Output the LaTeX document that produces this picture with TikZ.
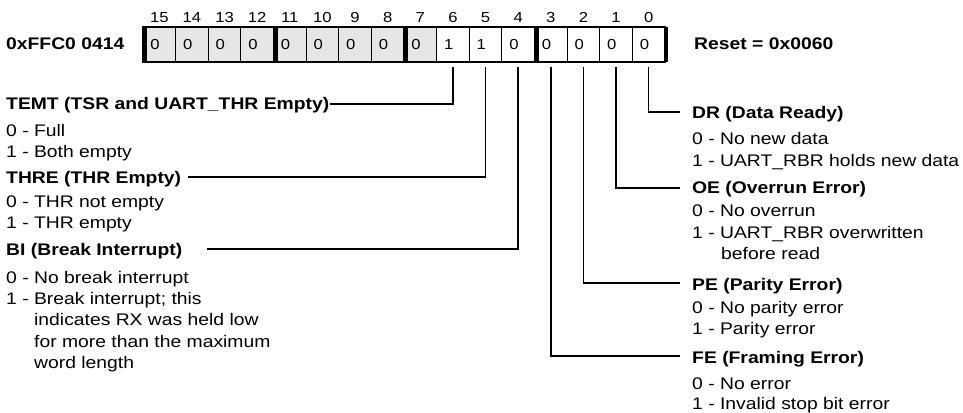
\documentclass[tikz,border=0pt]{standalone}
\usepackage{fontspec}
\setmainfont{Liberation Sans}[FakeStretch=1.15]
\definecolor{cellgray}{RGB}{230,230,230}
\begin{document}
\begin{tikzpicture}[x=1pt,y=-1pt,
  cell/.style={draw, line width=1.2pt, minimum width=32.625pt, minimum height=35pt, inner sep=0pt, outer sep=0pt},
  val/.style={inner sep=0pt, anchor=base, font=\fontsize{14.5}{16}\selectfont},
  bitno/.style={inner sep=0pt, anchor=base, font=\fontsize{14.5}{16}\selectfont},
  head/.style={inner sep=0pt, anchor=base west, font=\fontsize{16.8}{20}\selectfont\bfseries},
  desc/.style={inner sep=0pt, anchor=base west, font=\fontsize{16.8}{20}\selectfont},
  leader/.style={line width=1.5pt},
  bar/.style={line width=4pt}]
\useasboundingbox (0,0) rectangle (963,412);

% register cells
\foreach \k/\v in {15/0,14/0,13/0,12/0,11/0,10/0,9/0,8/0,7/0,6/1,5/1,4/0,3/0,2/0,1/0,0/0} {
  \pgfmathsetmacro\cx{143+(15-\k+0.5)*32.625}
  \ifnum\k>6 \def\fc{cellgray}\else\def\fc{white}\fi
  \node[cell, fill=\fc] (b\k) at (\cx,44.5) {};
  \node[val] (v\k) at (\cx-4.3,50) {\v};
  \node[bitno] (n\k) at (\cx,22.5) {\k};
}
% thick group separators
\foreach \bx in {145,275.5,406,536.5,665.5}
  \draw[bar] (\bx,27) -- (\bx,62);

% address and reset
\node[head] (addr) at (6,49.5) {0xFFC0 0414};
\node[head] (reset) at (694,49.5) {Reset = 0x0060};

% left descriptions
\node[head] (temt) at (6,109) {TEMT (TSR and UART\_THR Empty)};
\node[desc] (temt0) at (6,136) {0 - Full};
\node[desc] (temt1) at (6,157) {1 - Both empty};
\node[head] (thre) at (6,183) {THRE (THR Empty)};
\node[desc] (thre0) at (6,207) {0 - THR not empty};
\node[desc] (thre1) at (6,228) {1 - THR empty};
\node[head] (bi) at (6,255) {BI (Break Interrupt)};
\node[desc] (bi0) at (6,283) {0 - No break interrupt};
\node[desc] (bi1) at (6,304) {1 - Break interrupt; this};
\node[desc] (bi2) at (34,325) {indicates RX was held low};
\node[desc] (bi3) at (34,347) {for more than the maximum};
\node[desc] (bi4) at (34,368) {word length};

% right descriptions
\node[head] (dr) at (692,118) {DR (Data Ready)};
\node[desc] (dr0) at (692,144) {0 - No new data};
\node[desc] (dr1) at (692,166) {1 - UART\_RBR holds new data};
\node[head] (oe) at (692,193) {OE (Overrun Error)};
\node[desc] (oe0) at (692,216) {0 - No overrun};
\node[desc] (oe1) at (692,238) {1 - UART\_RBR overwritten};
\node[desc] (oe2) at (721,259) {before read};
\node[head] (pe) at (692,290) {PE (Parity Error)};
\node[desc] (pe0) at (692,313) {0 - No parity error};
\node[desc] (pe1) at (692,334) {1 - Parity error};
\node[head] (fe) at (692,363) {FE (Framing Error)};
\node[desc] (fe0) at (692,389) {0 - No error};
\node[desc] (fe1) at (692,409) {1 - Invalid stop bit error};

% leader lines
\coordinate (lTEMT) at (330,104);
\coordinate (lTHRE) at (188,177);
\coordinate (lBI) at (207,249);
\coordinate (lDR) at (680,112);
\coordinate (lOE) at (680,188);
\coordinate (lPE) at (680,283);
\coordinate (lFE) at (680,356);
\draw[leader] (lTEMT) -| ([yshift=-5pt]b6.south);
\draw[leader] (lTHRE) -| ([yshift=-5pt]b5.south);
\draw[leader] (lBI) -| ([yshift=-5pt]b4.south);
\draw[leader] (lDR) -| ([yshift=-5pt]b0.south);
\draw[leader] (lOE) -| ([yshift=-5pt]b1.south);
\draw[leader] (lPE) -| ([yshift=-5pt]b2.south);
\draw[leader] (lFE) -| ([yshift=-5pt]b3.south);
\end{tikzpicture}
\end{document}
